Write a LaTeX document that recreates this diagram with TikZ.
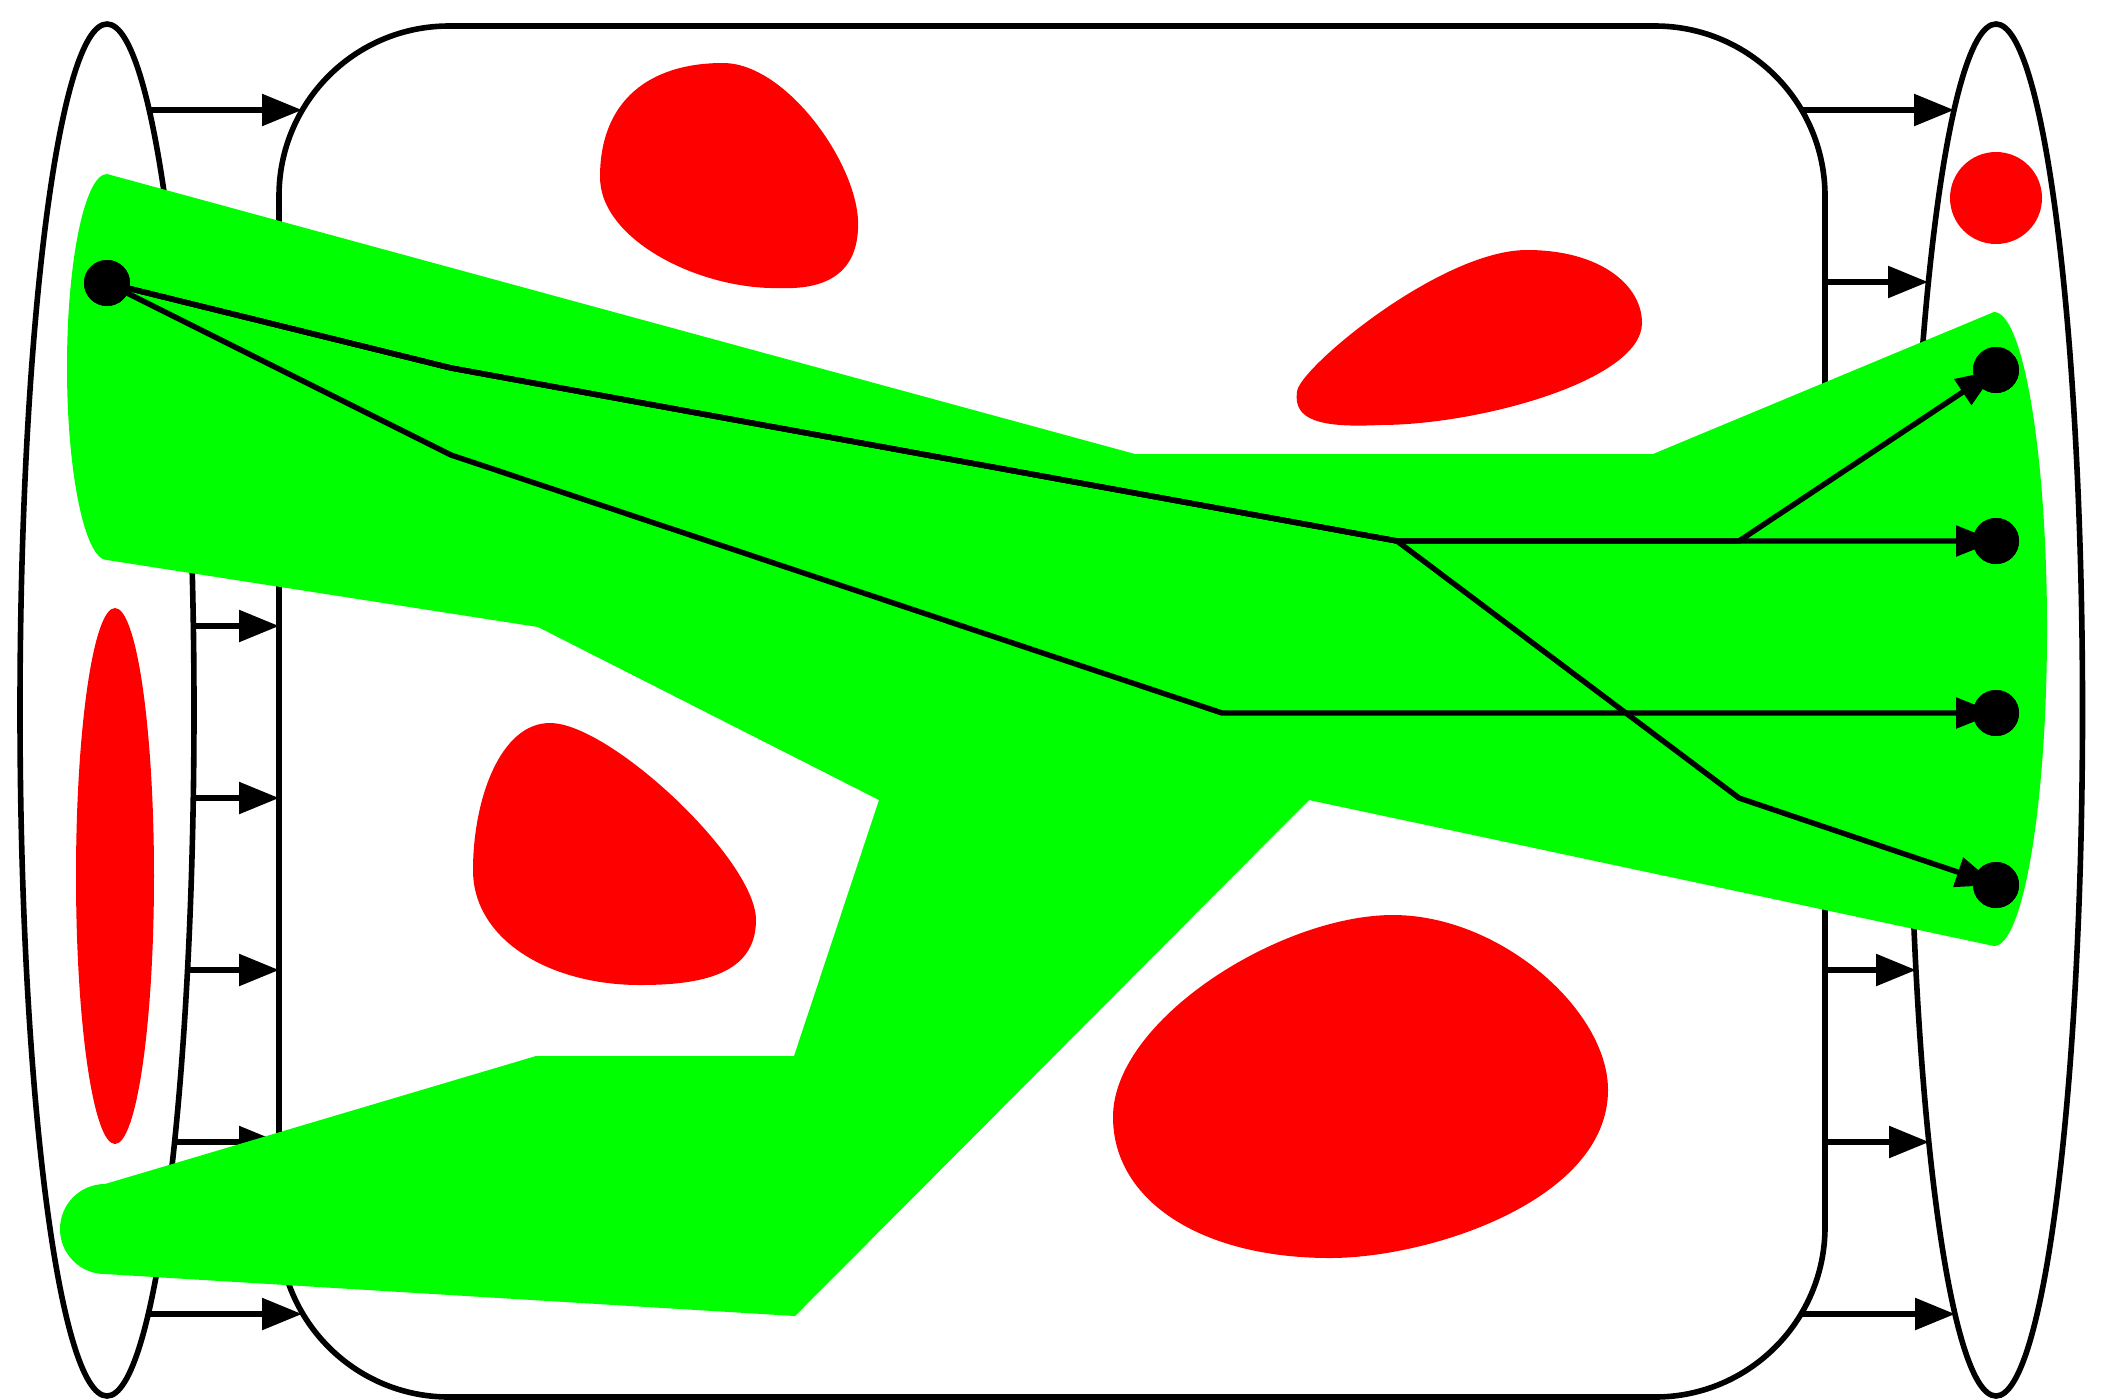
\documentclass[tikz,border=0pt]{standalone}
\usetikzlibrary{arrows.meta,shapes.geometric}
\definecolor{pgreen}{RGB}{0,255,0}
\definecolor{pred}{RGB}{255,0,0}
\begin{document}
\begin{tikzpicture}[x=0.5pt,y=-0.5pt,
  outline/.style={draw=black, line width=2.8pt, inner sep=0pt},
  flow/.style={line width=2.8pt, -{Triangle[length=20pt,width=15.5pt]}},
  blob/.style={fill=pred, draw=none},
  dotnode/.style={circle, fill=black, inner sep=0pt, minimum size=23pt},
  edgeline/.style={line width=2.7pt, line join=round, -{Triangle[length=20pt,width=15pt]}}]
\useasboundingbox (0,0) rectangle (2109,1399);
\fill[white] (0,0) rectangle (2109,1399);
% containers
\node[ellipse, outline, minimum width=87pt, minimum height=686pt] (L) at (107,710) {};
\node[rectangle, outline, rounded corners=85pt, minimum width=773pt, minimum height=685.5pt] (M) at (1052,711.5) {};
\node[ellipse, outline, minimum width=86.5pt, minimum height=686pt] (R) at (1996,710) {};
% arrows left ellipse -> box
\foreach \y/\a/\b in {110/149/302, 282/175/279, 454/188/279, 626/193/279, 798/193/279, 970/188/279, 1142/175/279, 1314/148/302}{
  \coordinate (ls\y) at (\a,\y);
  \coordinate (le\y) at (\b,\y);
  \draw[flow] (ls\y) -- (le\y);
}
% arrows box -> right ellipse
\foreach \y/\a/\b in {110/1802/1954, 282/1825/1928, 454/1825/1916, 626/1825/1910, 798/1825/1910, 970/1825/1916, 1142/1825/1929, 1314/1802/1955}{
  \coordinate (rs\y) at (\a,\y);
  \coordinate (re\y) at (\b,\y);
  \draw[flow] (rs\y) -- (re\y);
}
% red blobs
\fill[blob] (115,876) ellipse [x radius=39, y radius=268];
\fill[blob] (1996,198) circle [radius=46];
\fill[blob] (600,177) .. controls (600,100) and (650,63) .. (723,63)
  .. controls (785,63) and (855,160) .. (858,220)
  .. controls (860,270) and (830,290) .. (780,288)
  .. controls (700,290) and (600,240) .. (600,177) -- cycle;
\fill[blob] (1297,392) .. controls (1297,370) and (1440,250) .. (1527,250)
  .. controls (1600,250) and (1642,285) .. (1642,323)
  .. controls (1642,380) and (1480,425) .. (1380,425)
  .. controls (1320,428) and (1293,420) .. (1297,392) -- cycle;
\fill[blob] (473,870) .. controls (473,800) and (500,723) .. (550,723)
  .. controls (610,723) and (756,860) .. (756,920)
  .. controls (756,975) and (700,985) .. (640,985)
  .. controls (550,985) and (473,940) .. (473,870) -- cycle;
\fill[blob] (1113,1117) .. controls (1113,1020) and (1280,915) .. (1393,915)
  .. controls (1500,915) and (1608,1010) .. (1608,1090)
  .. controls (1608,1200) and (1430,1258) .. (1330,1258)
  .. controls (1200,1258) and (1113,1200) .. (1113,1117) -- cycle;
% green region
\fill[pgreen] (107,174) -- (1135,454) -- (1653,454) -- (1994,312)
  arc[start angle=-90, end angle=90, x radius=53, y radius=317]
  -- (1309,800) -- (795,1316) -- (105,1274)
  arc[start angle=90, end angle=270, radius=45]
  -- (536,1056) -- (794,1056) -- (879,800) -- (538,627) -- (107,560)
  arc[start angle=90, end angle=270, x radius=40, y radius=193] -- cycle;
% path nodes
\node[dotnode] (S) at (107,283) {};
\node[dotnode] (D1) at (1996,370) {};
\node[dotnode] (D2) at (1996,541) {};
\node[dotnode] (D3) at (1996,713) {};
\node[dotnode] (D4) at (1996,885) {};
\coordinate (A) at (451,368);
\coordinate (B) at (451,455);
\coordinate (Q) at (1397,541);
\coordinate (R1) at (1739,541);
\coordinate (R3) at (1222,713);
\coordinate (R4) at (1739,798);
\draw[edgeline] (S.center) -- (A) -- (Q) -- (R1) -- (D1.center);
\draw[edgeline] (S.center) -- (A) -- (Q) -- (D2.center);
\draw[edgeline] (S.center) -- (B) -- (R3) -- (D3.center);
\draw[edgeline] (S.center) -- (A) -- (Q) -- (R4) -- (D4.center);
% dots on top of the line ends
\foreach \n in {S,D1,D2,D3,D4}{ \fill[black] (\n.center) circle [radius=23]; }
\end{tikzpicture}
\end{document}
